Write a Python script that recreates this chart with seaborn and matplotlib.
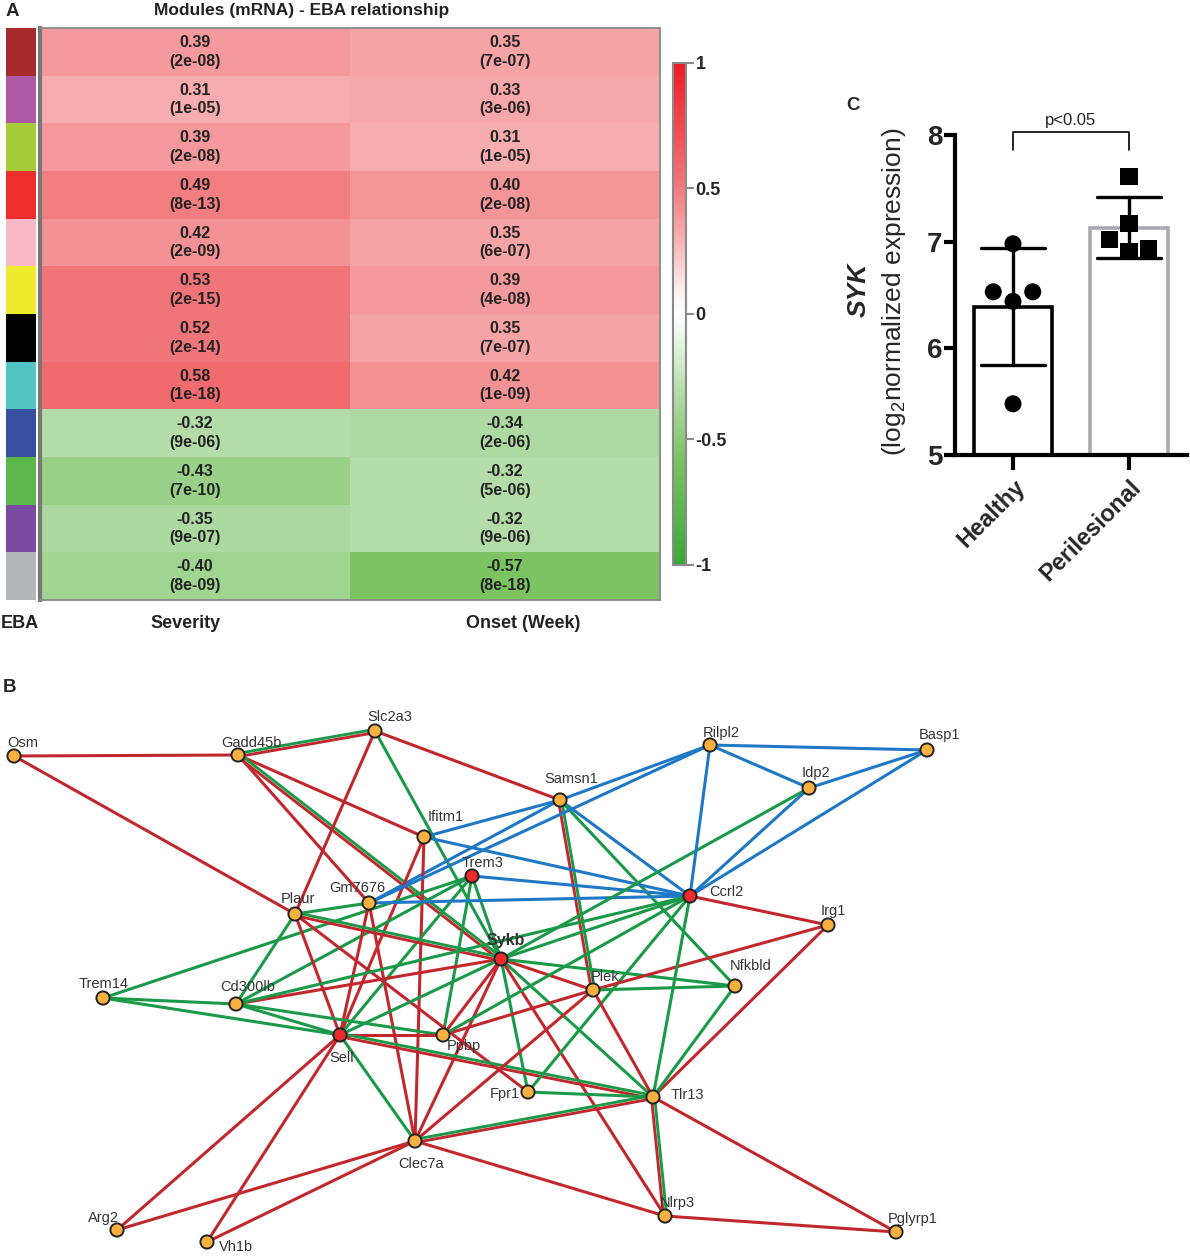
import matplotlib
matplotlib.use('Agg')
import matplotlib.pyplot as plt
import seaborn as sns
import numpy as np
import pandas as pd
from matplotlib.colors import LinearSegmentedColormap, ListedColormap

sns.set_theme(style='white')
plt.rcParams['font.family'] = ['Liberation Sans', 'DejaVu Sans']
plt.rcParams['mathtext.fontset'] = 'custom'
plt.rcParams['mathtext.rm'] = 'Liberation Sans'
plt.rcParams['mathtext.it'] = 'Liberation Sans:italic'
plt.rcParams['mathtext.bf'] = 'Liberation Sans:bold'

# ---------------- panel A: module - trait correlations
module_colors = ['#a52a2a', '#ae59a6', '#a6cc3a', '#ee2d2d', '#f8b8c8', '#eeea2e',
                 '#000000', '#52c4c4', '#3750a0', '#5ab84a', '#7a4aa0', '#b4b6b8']
severity_r = [0.39, 0.31, 0.39, 0.49, 0.42, 0.53, 0.52, 0.58, -0.32, -0.43, -0.35, -0.40]
severity_p = ['2e-08', '1e-05', '2e-08', '8e-13', '2e-09', '2e-15', '2e-14', '1e-18',
              '9e-06', '7e-10', '9e-07', '8e-09']
onset_r = [0.35, 0.33, 0.31, 0.40, 0.35, 0.39, 0.35, 0.42, -0.34, -0.32, -0.32, -0.57]
onset_p = ['7e-07', '3e-06', '1e-05', '2e-08', '6e-07', '4e-08', '7e-07', '1e-09',
           '2e-06', '5e-06', '9e-06', '8e-18']
traits = ['Severity', 'Onset (Week)']
cbar_ticks = [1, 0.5, 0, -0.5, -1]

# ---------------- panel C: SYK expression
groups = ['Healthy', 'Perilesional']
healthy = [6.98, 6.53, 6.53, 6.44, 5.48]
perilesional = [7.61, 7.17, 7.02, 6.91, 6.94]
# horizontal scatter of the dots inside each bar
healthy_jitter = [0, -0.17, 0.17, 0, 0]
perilesional_jitter = [0, 0, -0.17, 0, 0.17]

# ---------------- panel B: network
nodes = ['Osm', 'Gadd45b', 'Slc2a3', 'Samsn1', 'Ifitm1', 'Trem3', 'Gm7676', 'Plaur', 'Sykb',
         'Trem14', 'Cd300lb', 'Sell', 'Ppbp', 'Fpr1', 'Plek', 'Clec7a', 'Arg2', 'Vh1b',
         'Rilpl2', 'Basp1', 'Idp2', 'Ccrl2', 'Irg1', 'Nfkbld', 'Tlr13', 'Nlrp3', 'Pglyrp1']
node_x = [14, 238, 375, 560, 424, 472, 369, 295, 501, 103, 236, 340, 443, 528, 593, 415,
          117, 207, 710, 927, 809, 690, 828, 735, 653, 665, 896]
node_y = [756, 755, 731, 800, 837, 876, 903, 914, 959, 998, 1004, 1035, 1035, 1092, 990,
          1141, 1230, 1242, 745, 750, 788, 896, 925, 986, 1097, 1216, 1232]
hubs = ['Trem3', 'Sykb', 'Sell', 'Ccrl2']
edges = [
    ('Osm', 'Gadd45b', 'r'), ('Osm', 'Plaur', 'r'),
    ('Gadd45b', 'Slc2a3', 'rg'), ('Gadd45b', 'Ifitm1', 'r'), ('Gadd45b', 'Gm7676', 'r'),
    ('Gadd45b', 'Sykb', 'rg'),
    ('Slc2a3', 'Samsn1', 'r'), ('Slc2a3', 'Plaur', 'r'), ('Slc2a3', 'Sykb', 'g'),
    ('Samsn1', 'Ifitm1', 'b'), ('Samsn1', 'Gm7676', 'b'), ('Samsn1', 'Rilpl2', 'b'),
    ('Samsn1', 'Ccrl2', 'b'), ('Samsn1', 'Plek', 'rg'), ('Samsn1', 'Nfkbld', 'g'),
    ('Ifitm1', 'Ccrl2', 'b'), ('Ifitm1', 'Sell', 'r'), ('Ifitm1', 'Clec7a', 'r'),
    ('Trem3', 'Ccrl2', 'b'), ('Trem3', 'Trem14', 'g'), ('Trem3', 'Cd300lb', 'g'),
    ('Trem3', 'Sell', 'g'), ('Trem3', 'Ppbp', 'g'), ('Trem3', 'Sykb', 'g'),
    ('Gm7676', 'Rilpl2', 'b'), ('Gm7676', 'Ccrl2', 'b'), ('Gm7676', 'Plaur', 'g'),
    ('Gm7676', 'Sell', 'r'), ('Gm7676', 'Clec7a', 'r'),
    ('Plaur', 'Sykb', 'rg'), ('Plaur', 'Cd300lb', 'g'), ('Plaur', 'Sell', 'r'),
    ('Plaur', 'Fpr1', 'r'),
    ('Sykb', 'Cd300lb', 'r'), ('Sykb', 'Sell', 'g'), ('Sykb', 'Ppbp', 'r'),
    ('Sykb', 'Clec7a', 'r'), ('Sykb', 'Fpr1', 'g'), ('Sykb', 'Tlr13', 'g'),
    ('Sykb', 'Nlrp3', 'r'), ('Sykb', 'Plek', 'r'), ('Sykb', 'Nfkbld', 'g'),
    ('Sykb', 'Ccrl2', 'g'), ('Sykb', 'Idp2', 'g'),
    ('Trem14', 'Cd300lb', 'g'), ('Trem14', 'Sell', 'g'),
    ('Cd300lb', 'Sell', 'g'), ('Cd300lb', 'Ppbp', 'g'), ('Cd300lb', 'Ccrl2', 'g'),
    ('Sell', 'Ppbp', 'r'), ('Sell', 'Tlr13', 'rg'), ('Sell', 'Clec7a', 'g'),
    ('Sell', 'Arg2', 'r'), ('Sell', 'Vh1b', 'r'),
    ('Ppbp', 'Plek', 'r'), ('Ppbp', 'Ccrl2', 'g'),
    ('Fpr1', 'Tlr13', 'g'), ('Fpr1', 'Ccrl2', 'g'),
    ('Plek', 'Clec7a', 'r'), ('Plek', 'Tlr13', 'r'), ('Plek', 'Irg1', 'r'),
    ('Plek', 'Nfkbld', 'g'),
    ('Clec7a', 'Tlr13', 'rg'), ('Clec7a', 'Nlrp3', 'r'), ('Clec7a', 'Arg2', 'r'),
    ('Clec7a', 'Vh1b', 'r'),
    ('Rilpl2', 'Basp1', 'b'), ('Rilpl2', 'Idp2', 'b'), ('Rilpl2', 'Ccrl2', 'b'),
    ('Idp2', 'Basp1', 'b'), ('Idp2', 'Ccrl2', 'b'), ('Basp1', 'Ccrl2', 'b'),
    ('Ccrl2', 'Irg1', 'r'), ('Ccrl2', 'Tlr13', 'g'), ('Irg1', 'Tlr13', 'r'),
    ('Nfkbld', 'Tlr13', 'g'), ('Tlr13', 'Nlrp3', 'rg'), ('Tlr13', 'Pglyrp1', 'r'),
    ('Nlrp3', 'Pglyrp1', 'r'),
]

# label placement (offset from node, pixels)
label_offset = {
    'Osm': (9, -13), 'Gadd45b': (13, -12), 'Slc2a3': (15, -14), 'Samsn1': (11, -21),
    'Ifitm1': (22, -20), 'Trem3': (11, -13), 'Gm7676': (-12, -15), 'Plaur': (3, -15),
    'Sykb': (5, -19), 'Trem14': (1, -14), 'Cd300lb': (12, -17), 'Sell': (2, 23),
    'Ppbp': (21, 11), 'Fpr1': (-23, 2), 'Plek': (12, -13), 'Clec7a': (6, 23),
    'Arg2': (-14, -12), 'Vh1b': (29, 5), 'Rilpl2': (11, -12), 'Basp1': (13, -15),
    'Idp2': (7, -15), 'Ccrl2': (36, -4), 'Irg1': (5, -14), 'Nfkbld': (16, -20),
    'Tlr13': (34, -2), 'Nlrp3': (12, -13), 'Pglyrp1': (17, -13),
}
edge_colors = {'r': '#c1272d', 'g': '#1a9a48', 'b': '#1f78c6'}

W, H = 1190, 1256
fig = plt.figure(figsize=(W / 100, H / 100), dpi=100)


def box(x0, y0, x1, y1):
    return [x0 / W, 1 - y1 / H, (x1 - x0) / W, (y1 - y0) / H]


def ftext(x, y, s, **kw):
    fig.text(x / W, 1 - y / H, s, **kw)


# ---------------- heatmap
ax_strip = fig.add_axes(box(6, 28, 36, 600))
ax_hm = fig.add_axes(box(40, 28, 660, 600))
ax_cb = fig.add_axes(box(673, 63, 686, 565))

cmap = LinearSegmentedColormap.from_list('eba', [
    (0.0, '#3aa935'), (0.215, '#7cc462'), (0.34, '#b2dca8'), (0.45, '#e8f5e5'),
    (0.5, '#ffffff'), (0.55, '#fdeeee'), (0.655, '#f7adb0'), (0.765, '#f17478'),
    (1.0, '#ee1c25')])

corr = pd.DataFrame({traits[0]: severity_r, traits[1]: onset_r})
annot = np.array([[f'{r:.2f}\n({p})' for r, p in zip(severity_r, severity_p)],
                  [f'{r:.2f}\n({p})' for r, p in zip(onset_r, onset_p)]]).T
sns.heatmap(corr, ax=ax_hm, cmap=cmap, vmin=-1, vmax=1, annot=annot, fmt='',
            annot_kws=dict(fontsize=11.5, fontweight='bold', color='#222222', linespacing=1.3),
            cbar_ax=ax_cb, cbar_kws=dict(ticks=cbar_ticks),
            xticklabels=False, yticklabels=False)
for side, sp in ax_hm.spines.items():
    sp.set_visible(True)
    sp.set_color('#8a8a8a')
    sp.set_linewidth(1.3)
ax_hm.spines['left'].set_linewidth(3)
ax_hm.spines['left'].set_color('#777777')

cb = ax_hm.collections[0].colorbar
cb.set_ticklabels(['1', '0.5', '0', '-0.5', '-1'])
cb.outline.set_edgecolor('#8a8a8a')
cb.outline.set_linewidth(1.5)
ax_cb.tick_params(labelsize=13, length=6, width=1.5, color='#8a8a8a', pad=1)
for t in ax_cb.get_yticklabels():
    t.set_fontweight('bold')

sns.heatmap(np.arange(len(module_colors)).reshape(-1, 1), ax=ax_strip,
            cmap=ListedColormap(module_colors), cbar=False,
            xticklabels=False, yticklabels=False)

ftext(12, 11, 'A', fontsize=13.5, fontweight='bold', ha='center', va='center')
ftext(302, 11, 'Modules (mRNA) - EBA relationship', fontsize=12.5, fontweight='bold',
      ha='center', va='center', color='#222222')
ftext(20, 624, 'EBA', fontsize=13, fontweight='bold', ha='center', va='center', color='#222222')
ftext(186, 624, traits[0], fontsize=13, fontweight='bold', ha='center', va='center', color='#222222')
ftext(523, 624, traits[1], fontsize=13, fontweight='bold', ha='center', va='center', color='#222222')

# ---------------- bar chart
ax_bar = fig.add_axes(box(955, 135, 1187, 455))
syk = pd.DataFrame({'group': [groups[0]] * len(healthy) + [groups[1]] * len(perilesional),
                    'value': healthy + perilesional,
                    'shift': healthy_jitter + perilesional_jitter})
syk['xpos'] = syk['group'].map({g: i for i, g in enumerate(groups)}) + syk['shift']
sns.barplot(data=syk, x='group', y='value', order=groups, errorbar='sd', capsize=0.55,
            color='white', width=0.67, linewidth=2.6, edgecolor='black',
            err_kws={'color': 'black', 'linewidth': 2.4}, ax=ax_bar)
ax_bar.patches[1].set_edgecolor('#a7a9ac')
sns.scatterplot(data=syk, x='xpos', y='value', style='group', markers={groups[0]: 'o', groups[1]: 's'},
                color='black', s=150, edgecolor='none', legend=False, zorder=3, ax=ax_bar)
ax_bar.set_ylim(5, 8)
ax_bar.set_xlim(-0.5, 1.5)
ax_bar.set_yticks([5, 6, 7, 8])
ax_bar.set_xlabel('')
ax_bar.set_ylabel('')
sns.despine(ax=ax_bar)
for side in ['left', 'bottom']:
    ax_bar.spines[side].set_linewidth(3)
    ax_bar.spines[side].set_color('black')
ax_bar.tick_params(axis='y', left=True, length=8, width=3, labelsize=20, pad=1, color='black')
ax_bar.tick_params(axis='x', bottom=True, length=11, width=3, labelsize=17, pad=4, color='black')
for t in ax_bar.get_yticklabels():
    t.set_fontweight('bold')
ax_bar.set_xticks([0, 1])
ax_bar.set_xticklabels(groups, rotation=45, ha='right', rotation_mode='anchor',
                       fontweight='bold')
ax_bar.plot([0, 0, 1, 1], [7.86, 8.03, 8.03, 7.86], color='black', lw=1.2, clip_on=False)
ax_bar.text(0.5, 8.14, 'p<0.05', ha='center', va='center', fontsize=12, color='#222222')

ftext(853, 105, 'C', fontsize=13.5, fontweight='bold', ha='center', va='center')
ftext(859, 290, 'SYK', rotation=90, fontsize=19, fontweight='bold', fontstyle='italic',
      ha='center', va='center')
ftext(894, 292, r'(log$_2$normalized expression)', rotation=90, fontsize=19,
      ha='center', va='center')

# ---------------- network
ax_net = fig.add_axes(box(0, 700, W, H))
pos = {n: (x, y) for n, x, y in zip(nodes, node_x, node_y)}
for a, b, kind in edges:
    (x0, y0), (x1, y1) = pos[a], pos[b]
    if kind == 'rg':
        d = np.hypot(x1 - x0, y1 - y0)
        nx, ny = -(y1 - y0) / d * 1.6, (x1 - x0) / d * 1.6
        ax_net.plot([x0 + nx, x1 + nx], [y0 + ny, y1 + ny], color=edge_colors['r'],
                    lw=2.1, solid_capstyle='butt', zorder=1)
        ax_net.plot([x0 - nx, x1 - nx], [y0 - ny, y1 - ny], color=edge_colors['g'],
                    lw=2.1, solid_capstyle='butt', zorder=1)
    else:
        ax_net.plot([x0, x1], [y0, y1], color=edge_colors[kind], lw=2.2,
                    solid_capstyle='butt', zorder=1)

net_df = pd.DataFrame({'gene': nodes, 'x': node_x, 'y': node_y,
                       'kind': ['hub' if n in hubs else 'gene' for n in nodes]})
sns.scatterplot(data=net_df, x='x', y='y', hue='kind',
                palette={'hub': '#ee2a2a', 'gene': '#fbb040'}, s=90,
                edgecolor='#222222', linewidth=1.4, legend=False, zorder=3, ax=ax_net)
for n, x, y in zip(nodes, node_x, node_y):
    dx, dy = label_offset[n]
    ax_net.text(x + dx, y + dy, n, ha='center', va='center', color='#333333',
                fontsize=11.5 if n == 'Sykb' else 10.5,
                fontweight='bold' if n == 'Sykb' else 'normal', zorder=4)
ax_net.set_xlim(0, W)
ax_net.set_ylim(H, 700)
ax_net.axis('off')
ftext(10, 688, 'B', fontsize=13.5, fontweight='bold', ha='center', va='center')

fig.savefig('out.png', dpi=100)
